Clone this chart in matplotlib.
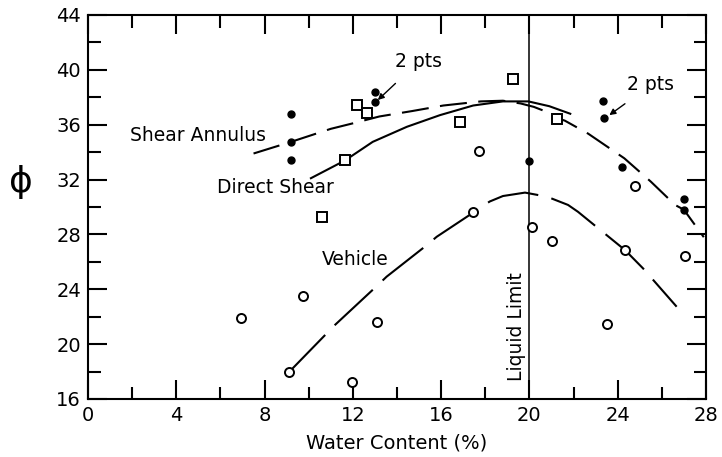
import matplotlib
matplotlib.use("Agg")
import matplotlib.pyplot as plt
from matplotlib.ticker import MultipleLocator

# shear annulus tests (filled dots)
annulus_w = [9.2, 9.2, 9.2, 13.0, 13.0, 20.0, 23.35, 23.4, 24.2, 27.0, 27.0]
annulus_phi = [36.8, 34.75, 33.4, 38.35, 37.65, 33.35, 37.75, 36.5, 32.9, 30.6, 29.8]

# direct shear tests (open squares)
direct_w = [10.6, 11.65, 12.2, 12.65, 16.85, 19.25, 21.25]
direct_phi = [29.3, 33.4, 37.45, 36.85, 36.2, 39.3, 36.4]

# vehicle tests (open circles)
vehicle_w = [6.95, 9.1, 9.75, 11.95, 13.08, 17.46, 17.7, 20.1, 21.0, 23.5, 24.33, 24.8, 27.05]
vehicle_phi = [21.9, 17.95, 23.5, 17.25, 21.65, 29.6, 34.1, 28.55, 27.55, 21.5, 26.86, 31.5, 26.4]

# fitted curves
annulus_curve_w = [7.5, 9.2, 11.0, 12.0, 13.2, 14.7, 16.1, 17.8, 18.8, 19.6, 20.2, 21.0,
                   21.3, 21.6, 22.66, 24.3, 25.5, 26.6, 27.0, 27.9]
annulus_curve_phi = [33.9, 34.75, 35.7, 36.1, 36.6, 37.0, 37.4, 37.7, 37.75, 37.55, 37.3, 36.8,
                     36.45, 36.3, 35.35, 33.55, 31.85, 30.15, 29.8, 27.8]

direct_curve_w = [10.1, 11.65, 12.9, 14.45, 15.95, 17.45, 18.8, 19.95, 20.9, 21.85]
direct_curve_phi = [32.1, 33.4, 34.75, 35.85, 36.7, 37.4, 37.7, 37.7, 37.35, 36.8]

vehicle_curve_w = [9.1, 10.74, 11.19, 13.08, 13.53, 15.35, 15.8, 17.46, 18.2, 18.8, 19.8,
                   20.8, 21.75, 22.2, 24.33, 25.15, 26.67]
vehicle_curve_phi = [17.95, 20.66, 21.4, 24.23, 24.92, 27.22, 27.83, 29.6, 30.4, 30.8, 31.05,
                     30.75, 30.15, 29.65, 26.86, 25.52, 22.73]

liquid_limit = 20

fig = plt.figure(figsize=(7.22, 4.57), dpi=100)
ax = fig.add_axes([88 / 722, 1 - 399 / 457, 618 / 722, 384 / 457])

ax.plot(annulus_curve_w, annulus_curve_phi, color='k', lw=1.5, ls=(0, (13, 5.5)))
ax.plot(direct_curve_w, direct_curve_phi, color='k', lw=1.5)
ax.plot(vehicle_curve_w, vehicle_curve_phi, color='k', lw=1.5, ls=(0, (25, 6.5)))
ax.axvline(liquid_limit, color='k', lw=1.1)

ax.plot(annulus_w, annulus_phi, 'o', color='k', ms=5)
ax.plot(direct_w, direct_phi, 's', mfc='white', mec='k', mew=1.4, ms=6.5)
ax.plot(vehicle_w, vehicle_phi, 'o', mfc='white', mec='k', mew=1.4, ms=6.5)

ax.text(5.0, 35.25, 'Shear Annulus', fontsize=13.5, ha='center', va='center')
ax.text(8.5, 31.4, 'Direct Shear', fontsize=13.5, ha='center', va='center')
ax.text(12.1, 26.2, 'Vehicle', fontsize=13.5, ha='center', va='center')
ax.text(19.4, 21.3, 'Liquid Limit', fontsize=13.5, rotation=90, ha='center', va='center')

ax.annotate('2 pts', xy=(13.13, 37.8), xytext=(14.98, 40.6), fontsize=13.5,
            ha='center', va='center',
            arrowprops=dict(arrowstyle='-|>', color='k', lw=1, mutation_scale=9,
                            shrinkA=10, shrinkB=0))
ax.annotate('2 pts', xy=(23.62, 36.7), xytext=(25.5, 38.9), fontsize=13.5,
            ha='center', va='center',
            arrowprops=dict(arrowstyle='-|>', color='k', lw=1, mutation_scale=9,
                            shrinkA=8, shrinkB=0))

ax.set_xlim(0, 28)
ax.set_ylim(16, 44)
ax.xaxis.set_major_locator(MultipleLocator(4))
ax.xaxis.set_minor_locator(MultipleLocator(2))
ax.yaxis.set_major_locator(MultipleLocator(4))
ax.yaxis.set_minor_locator(MultipleLocator(2))
ax.tick_params(which='both', direction='in', top=True, right=True, width=1.5,
               labelsize=14, pad=5)
ax.tick_params(which='major', length=14)
ax.tick_params(which='minor', length=9)
for s in ax.spines.values():
    s.set_linewidth(1.5)

ax.set_xlabel('Water Content (%)', fontsize=14, labelpad=6)
ax.set_ylabel('ϕ', fontsize=26, rotation=0, ha='center', va='center')
ax.yaxis.set_label_coords(-0.108, 0.565)

fig.savefig('out.png', dpi=100)
